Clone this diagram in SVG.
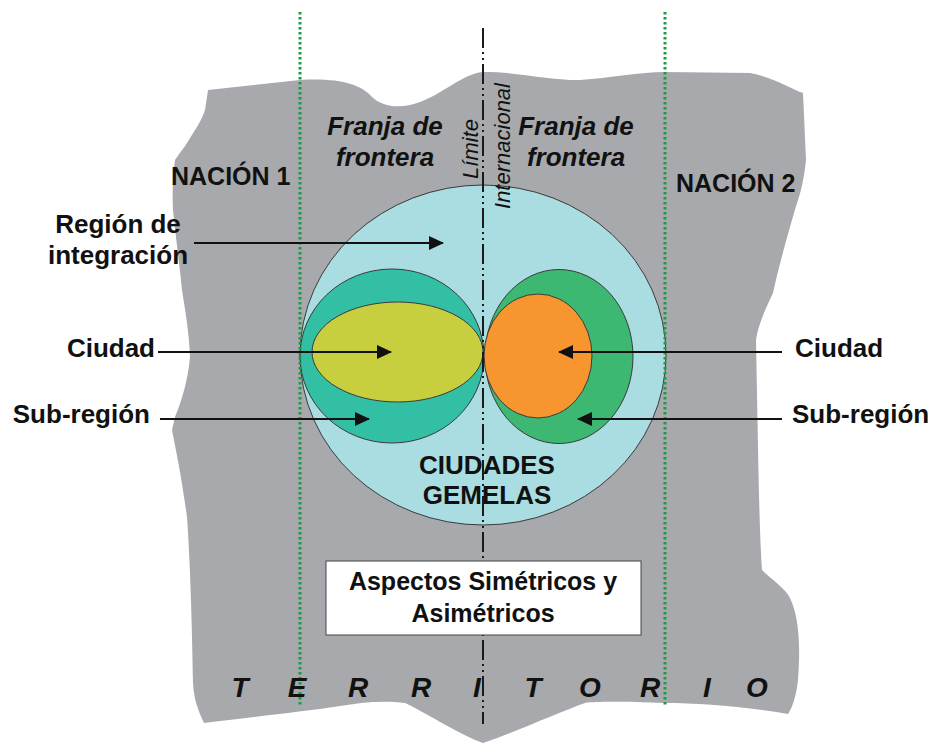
<svg xmlns="http://www.w3.org/2000/svg" width="932" height="744" viewBox="0 0 932 744">
<defs>
<style>
.lbl{font-family:"Liberation Sans",Arial,sans-serif;font-weight:bold;font-size:26px;fill:#111}
.s25{font-size:25px}
.it{font-family:"Liberation Sans",Arial,sans-serif;font-style:italic;font-weight:bold;font-size:26px;fill:#111}
.vt{font-family:"Liberation Sans",Arial,sans-serif;font-style:italic;font-size:22px;fill:#111}
.ter{font-family:"Liberation Sans",Arial,sans-serif;font-style:italic;font-weight:bold;font-size:28px;fill:#111}
.shape{stroke:#3a3a3a;stroke-width:1}
.green{stroke:#1f9a45;stroke-width:3;stroke-dasharray:2.5 2.5;fill:none}
.conn{stroke:#111;stroke-width:2;fill:none;marker-end:url(#ah)}
</style>
<marker id="ah" markerUnits="userSpaceOnUse" markerWidth="16" markerHeight="14" refX="14" refY="7" orient="auto">
<path d="M0,0 L15,7 L0,14 Z" fill="#111"/>
</marker>
</defs>
<rect width="932" height="744" fill="#ffffff"/>
<g id="territorio-shape">
<path fill="#a7a9ac" d="M208,90 L300,80 C340,78 360,84 372,97 C382,106 395,108 410,105 C440,98 460,74 483,72 C520,72 545,80 580,80 C610,78 640,72 665,72 L750,73 C772,77 790,88 803,93 L806,160 C804,180 800,195 797,203 C786,240 778,270 773,293 C765,310 758,325 756,340 L758,447 C759,500 760,540 762,570 C772,580 785,588 790,598 C798,615 801,640 798,680 C796,698 792,708 788,714 C740,706 700,703 665,703 C630,702 600,701 585,703 C560,712 520,730 483,743 C460,735 430,715 405,703 C380,700 360,703 340,706 C300,712 260,716 204,723 C198,710 194,700 193,683 C192,620 190,560 187,517 C182,480 176,450 172,430 L175,417 C182,400 188,380 190,357 C189,330 185,310 182,290 C179,260 175,230 173,210 C172,190 173,175 175,160 C180,152 184,148 187,143 C195,130 202,120 205,110 Z"/>
</g>
<g id="region-integracion">
<ellipse cx="483" cy="355" rx="183" ry="170" fill="#aadde1" class="shape"/>
</g>
<g id="subregion-1">
<ellipse cx="392" cy="356" rx="92" ry="87" fill="#33bfa3" class="shape"/>
</g>
<g id="ciudad-1">
<ellipse cx="397.5" cy="352" rx="85.5" ry="50" fill="#c8cf3e" class="shape"/>
</g>
<g id="subregion-2">
<ellipse cx="559" cy="356.5" rx="74" ry="87" fill="#3cb872" class="shape"/>
</g>
<g id="ciudad-2">
<ellipse cx="538" cy="356" rx="54" ry="62" fill="#f7952e" class="shape"/>
</g>
<g id="franjas">
<line x1="300" y1="12" x2="300" y2="707" class="green"/>
<line x1="665" y1="12" x2="665" y2="707" class="green"/>
</g>
<g id="labels">
<text class="it" text-anchor="middle" x="385" y="135">Franja de</text>
<text class="it" text-anchor="middle" x="385" y="166">frontera</text>
<text class="it" text-anchor="middle" x="576" y="135">Franja de</text>
<text class="it" text-anchor="middle" x="576" y="166">frontera</text>
<text class="lbl s25" x="171" y="185">NACIÓN 1</text>
<text class="lbl s25" x="676" y="192">NACIÓN 2</text>
<text class="lbl" text-anchor="middle" x="118" y="233">Región de</text>
<text class="lbl" text-anchor="middle" x="118" y="264">integración</text>
<text class="lbl" text-anchor="end" x="155" y="357">Ciudad</text>
<text class="lbl" text-anchor="end" x="150" y="423">Sub-región</text>
<text class="lbl" x="795" y="357">Ciudad</text>
<text class="lbl" x="792" y="423">Sub-región</text>
<text class="lbl" text-anchor="middle" x="487" y="474">CIUDADES</text>
<text class="lbl" text-anchor="middle" x="487" y="504">GEMELAS</text>
<text class="ter" text-anchor="middle" y="697" x="240 297 358 421 477 533 590 650 707 757">TERRITORIO</text>
</g>
<g id="limite">
<line x1="483" y1="28" x2="483" y2="724" stroke="#1a1a1a" stroke-width="2" stroke-dasharray="20 4 2 4 2 4"/>
<text class="vt" text-anchor="middle" transform="translate(478,149) rotate(-90)">Límite</text>
<text class="vt" text-anchor="middle" transform="translate(510,146) rotate(-90)">Internacional</text>
</g>
<g id="connectors">
<line x1="194" y1="243" x2="443" y2="243" class="conn"/>
<line x1="158" y1="352" x2="391" y2="352" class="conn"/>
<line x1="160" y1="419" x2="369" y2="419" class="conn"/>
<line x1="782" y1="352" x2="559" y2="352" class="conn"/>
<line x1="782" y1="419" x2="578" y2="419" class="conn"/>
</g>
<g id="aspectos">
<rect x="326" y="561" width="315" height="74" fill="#ffffff" stroke="#444" stroke-width="1"/>
<text class="lbl s25" text-anchor="middle" x="483" y="590">Aspectos Simétricos y</text>
<text class="lbl s25" text-anchor="middle" x="483" y="622">Asimétricos</text>
</g>
</svg>
